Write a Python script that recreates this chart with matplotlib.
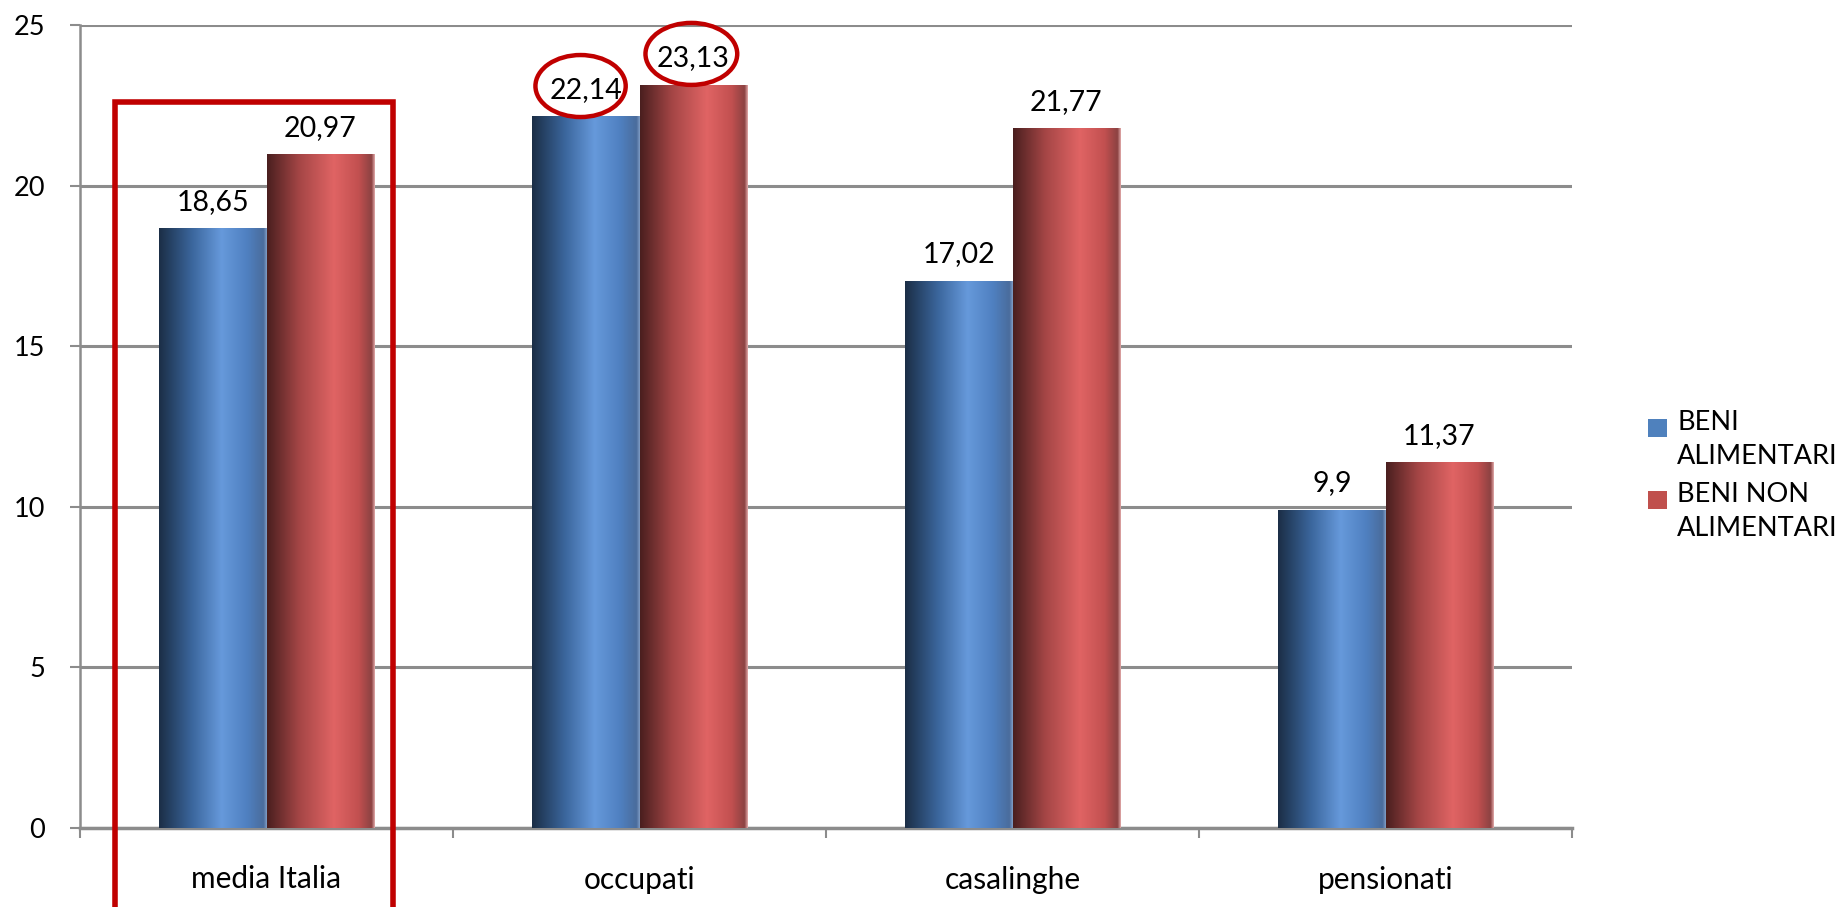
import numpy as np
import matplotlib
matplotlib.use("Agg")
import matplotlib.pyplot as plt
from matplotlib.colors import LinearSegmentedColormap
from matplotlib.patches import Rectangle, Ellipse

plt.rcParams["font.family"] = ["Lato", "DejaVu Sans"]

categories = ["media Italia", "occupati", "casalinghe", "pensionati"]
series_names = ["BENI\nALIMENTARI", "BENI NON\nALIMENTARI"]
beni_alimentari = [18.65, 22.14, 17.02, 9.9]
beni_non_alimentari = [20.97, 23.13, 21.77, 11.37]
y_ticks = [0, 5, 10, 15, 20, 25]

# cylinder-like shading across each bar
blue_cmap = LinearSegmentedColormap.from_list("blue_cyl", [
    (0.0, "#1b2e46"), (0.3, "#3a659b"), (0.58, "#6699db"),
    (0.82, "#4f80c0"), (0.97, "#4a6c9c"), (1.0, "#7f9cc4")])
red_cmap = LinearSegmentedColormap.from_list("red_cyl", [
    (0.0, "#4a1f1f"), (0.3, "#a54646"), (0.62, "#e06464"),
    (0.85, "#c25050"), (0.97, "#8c4242"), (1.0, "#e0a6a6")])
swatch_colors = ["#4f81bd", "#c0504d"]

W, H = 1848, 907
fig = plt.figure(figsize=(W / 100, H / 100), dpi=100)
ax = fig.add_axes([80 / W, 1 - 828 / H, (1572 - 80) / W, (828 - 25) / H])

x = np.arange(len(categories))
bw = 0.287
grad = np.linspace(0, 1, 256).reshape(1, -1)

for values, offset, cmap in [(beni_alimentari, -bw / 2, blue_cmap),
                             (beni_non_alimentari, bw / 2, red_cmap)]:
    bars = ax.bar(x + offset, values, bw, color="none", edgecolor="none", zorder=3)
    for b, v in zip(bars, values):
        x0, y0 = b.get_x(), b.get_y()
        ax.imshow(grad, cmap=cmap, aspect="auto", zorder=3,
                  extent=[x0, x0 + b.get_width(), y0, y0 + b.get_height()])
        ax.annotate(str(v).replace(".", ","), (b.get_x() + b.get_width() / 2, v),
                    xytext=(0, 10), textcoords="offset points",
                    ha="center", va="bottom", fontsize=20.5, zorder=5)

ax.set_xlim(-0.5, len(categories) - 0.5)
ax.set_ylim(0, 25)
ax.set_yticks(y_ticks)
ax.set_yticklabels([str(t) for t in y_ticks], fontsize=19.5)
ax.set_xticks(x)
ax.set_xticklabels(categories, fontsize=21.5)
ax.set_xticks(np.arange(-0.5, len(categories)), minor=True)
ax.tick_params(axis="x", which="major", length=0, pad=27)
ax.tick_params(axis="x", which="minor", length=7, width=1.5, color="#8c8c8c", direction="out")
ax.tick_params(axis="y", length=7, width=1.5, color="#8c8c8c", pad=18)
ax.grid(axis="y", color="#8c8c8c", linewidth=2.2, zorder=1)
ax.set_axisbelow(True)
for side in ["top", "right"]:
    ax.spines[side].set_visible(False)
ax.spines["left"].set_color("#8c8c8c")
ax.spines["left"].set_linewidth(1.8)
ax.spines["bottom"].set_color("#8c8c8c")
ax.spines["bottom"].set_linewidth(2.5)

# highlight box around the national average
ax.add_patch(Rectangle((-0.405, -6), 0.743, 22.6 + 6, fill=False,
                       edgecolor="#c00000", linewidth=4, clip_on=False, zorder=6))
# circled values for the employed group
ax.add_patch(Ellipse((1 - 0.158, 23.1), 0.242, 1.93, fill=False,
                     edgecolor="#c00000", linewidth=3.2, clip_on=False, zorder=6))
ax.add_patch(Ellipse((1 + 0.139, 24.1), 0.246, 1.93, fill=False,
                     edgecolor="#c00000", linewidth=3.2, clip_on=False, zorder=6))

# legend on the right
for i, (name, col) in enumerate(zip(series_names, swatch_colors)):
    top = 419 + i * 72
    fig.patches.append(Rectangle((1648 / W, 1 - (top + 18) / H), 19 / W, 18 / H,
                                 facecolor=col, edgecolor="none",
                                 transform=fig.transFigure, figure=fig))
    fig.text(1677 / W, 1 - (top - 9) / H, name, fontsize=19.5, va="top", ha="left",
             linespacing=1.45)

fig.savefig("out.png", dpi=100)
